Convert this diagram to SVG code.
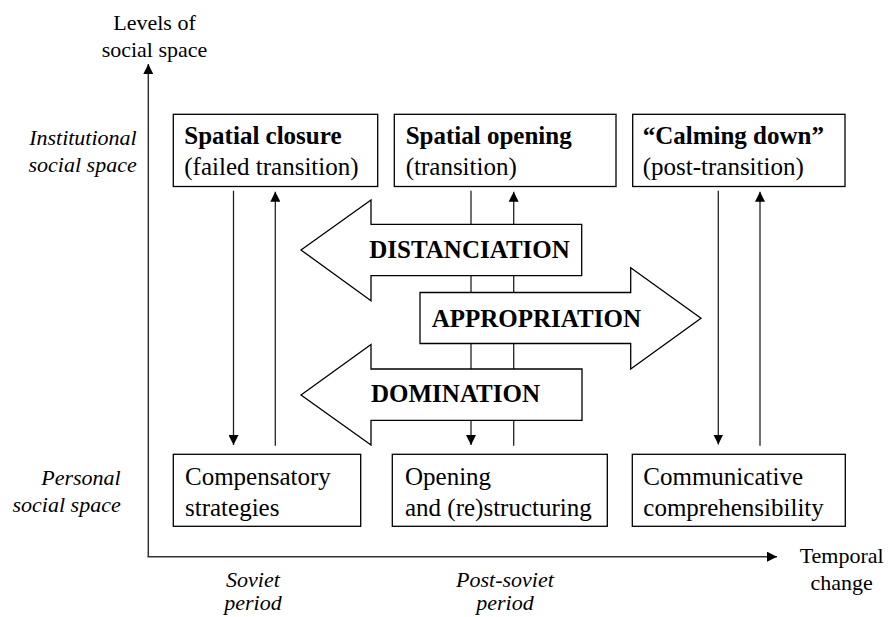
<svg xmlns="http://www.w3.org/2000/svg" width="888" height="617" viewBox="0 0 888 617">
<style>
.t{font-size:25px}
.b{font-size:25px;font-weight:bold}
.lab{font-size:22px}
.it{font-size:22px;font-style:italic}
.box{fill:#fff;stroke:#000;stroke-width:1.3}
.blk{fill:#fff;stroke:#000;stroke-width:1.3;stroke-linejoin:miter}
.ln{stroke:#222;stroke-width:1.3;fill:none}
.ax{stroke:#333;stroke-width:1.5;fill:none}
</style>
<defs>
<marker id="ah" viewBox="0 0 10 10" refX="10" refY="5" markerWidth="10" markerHeight="10" markerUnits="userSpaceOnUse" orient="auto">
<path d="M0,0 L10,5 L0,10 z" fill="#000"/>
</marker>
</defs>
<rect width="888" height="617" fill="#fff"/>

<g id="axes">
<line class="ax" x1="148.3" y1="556.7" x2="148.3" y2="64" marker-end="url(#ah)"/>
<line class="ax" x1="147.6" y1="556.7" x2="777" y2="556.7" marker-end="url(#ah)"/>
</g>

<g id="connectors">
<line class="ln" x1="233.5" y1="190.7" x2="233.5" y2="445" marker-end="url(#ah)"/>
<line class="ln" x1="275.3" y1="445.7" x2="275.3" y2="191.7" marker-end="url(#ah)"/>
<line class="ln" x1="471" y1="190.7" x2="471" y2="445" marker-end="url(#ah)"/>
<line class="ln" x1="513.7" y1="445.7" x2="513.7" y2="191.7" marker-end="url(#ah)"/>
<line class="ln" x1="718.3" y1="190.7" x2="718.3" y2="444.5" marker-end="url(#ah)"/>
<line class="ln" x1="760" y1="445.7" x2="760" y2="191.7" marker-end="url(#ah)"/>
</g>

<g font-family="Liberation Serif, Times New Roman, serif" fill="#000">
<g id="arrow-distanciation">
<polygon class="blk" points="301,250 371,200 371,224.3 581.7,224.3 581.7,275.7 371,275.7 371,300.7"/>
<text class="b" x="369.3" y="258.3">DISTANCIATION</text>
</g>
<g id="arrow-appropriation">
<polygon class="blk" points="420,292.5 630.7,292.5 630.7,267.7 701,318.3 630.7,369 630.7,343.5 420,343.5"/>
<text class="b" x="431.7" y="326.7">APPROPRIATION</text>
</g>
<g id="arrow-domination">
<polygon class="blk" points="301,395 371,344.5 371,369 582,369 582,420.3 371,420.3 371,445"/>
<text class="b" x="371" y="401.7">DOMINATION</text>
</g>

<g id="box-closure">
<rect class="box" x="173.3" y="114.3" width="204.4" height="72.2"/>
<text class="b" x="184.3" y="144">Spatial closure</text>
<text class="t" x="184.3" y="175">(failed transition)</text>
</g>
<g id="box-opening">
<rect class="box" x="394.3" y="114.3" width="221.7" height="72.2"/>
<text class="b" x="405.7" y="144">Spatial opening</text>
<text class="t" x="405.7" y="175">(transition)</text>
</g>
<g id="box-calming">
<rect class="box" x="632.7" y="114.3" width="212.3" height="72.2"/>
<text class="b" x="642.7" y="144">“Calming down”</text>
<text class="t" x="642.7" y="175">(post-transition)</text>
</g>

<g id="box-compensatory">
<rect class="box" x="173.3" y="454.3" width="187.4" height="72"/>
<text class="t" x="185" y="485">Compensatory</text>
<text class="t" x="185" y="516">strategies</text>
</g>
<g id="box-restructuring">
<rect class="box" x="392.3" y="454.3" width="215" height="72"/>
<text class="t" x="405" y="485">Opening</text>
<text class="t" x="405" y="516">and (re)structuring</text>
</g>
<g id="box-communicative">
<rect class="box" x="632.3" y="454.3" width="213" height="72"/>
<text class="t" x="643.3" y="485">Communicative</text>
<text class="t" x="643.3" y="516">comprehensibility</text>
</g>

<g id="label-levels">
<text class="lab" x="154.5" y="30" text-anchor="middle">Levels of</text>
<text class="lab" x="154.5" y="57" text-anchor="middle">social space</text>
</g>
<g id="label-institutional">
<text class="it" x="136.7" y="145" text-anchor="end">Institutional</text>
<text class="it" x="136.7" y="171.5" text-anchor="end">social space</text>
</g>
<g id="label-personal">
<text class="it" x="120.7" y="485" text-anchor="end">Personal</text>
<text class="it" x="120.7" y="511.7" text-anchor="end">social space</text>
</g>
<g id="label-temporal">
<text class="lab" x="841.7" y="563" text-anchor="middle">Temporal</text>
<text class="lab" x="841.7" y="590" text-anchor="middle">change</text>
</g>
<g id="label-soviet">
<text class="it" x="253" y="586.5" text-anchor="middle">Soviet</text>
<text class="it" x="253" y="610" text-anchor="middle">period</text>
</g>
<g id="label-postsoviet">
<text class="it" x="505" y="586.5" text-anchor="middle">Post-soviet</text>
<text class="it" x="505" y="610" text-anchor="middle">period</text>
</g>
</g>
</svg>
